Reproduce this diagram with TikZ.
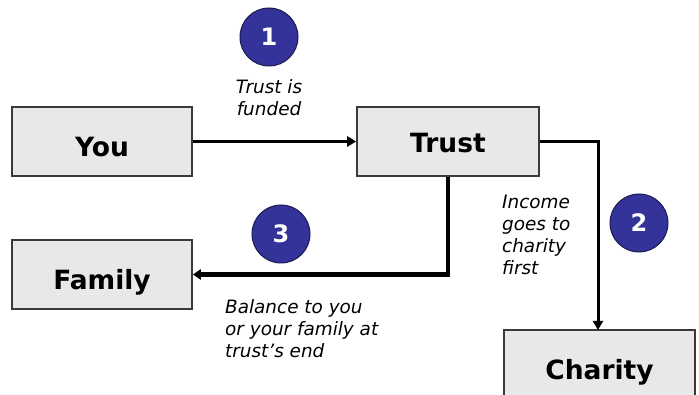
\documentclass[tikz,border=0pt]{standalone}
\usepackage{fontspec}
\setmainfont{DejaVu Sans}
\usetikzlibrary{arrows.meta}
\definecolor{boxfill}{HTML}{E8E8E8}
\definecolor{boxedge}{HTML}{3A3A3A}
\definecolor{stepblue}{HTML}{333399}
\definecolor{stepedge}{HTML}{1A1A4D}
\tikzset{
  partybox/.style={draw=boxedge, line width=1.6pt, fill=boxfill, minimum width=180pt, minimum height=69pt, inner sep=0pt, font=\fontsize{26.5}{30}\selectfont\bfseries, text depth=0pt},
  stepdot/.style={circle, draw=stepedge, line width=1pt, fill=stepblue, minimum size=58pt, inner sep=0pt, text=white, font=\fontsize{24}{28}\selectfont\bfseries},
  note/.style={font=\fontsize{18.4}{22}\selectfont\itshape, inner sep=0pt},
  flow/.style={line width=3pt, -{Triangle[length=9pt,width=10pt]}},
  bigflow/.style={line width=4.5pt, -{Triangle[length=8pt,width=10pt]}}
}
\begin{document}
\begin{tikzpicture}[x=1pt,y=-1pt]
\useasboundingbox (0,0) rectangle (699,395);
\clip (0,0) rectangle (699,395);
\node[partybox, text height=30pt] (you) at (102,141.5) {You};
\node[partybox, minimum width=182pt, text height=22pt] (trust) at (448,141.5) {Trust};
\node[partybox, text height=30pt] (family) at (102,274.5) {Family};
\node[partybox, minimum width=191pt, minimum height=70pt, text height=28pt] (charity) at (599.5,365) {Charity};
\coordinate (turn) at (598,330);
\draw[flow] (you.east) -- (trust.west);
\draw[flow] (trust.east) -| (turn);
\draw[bigflow] (trust.south) |- (family.east);
\node[stepdot] (s1) at (269,37) {1};
\node[stepdot] (s2) at (639,223) {2};
\node[stepdot] (s3) at (281,234) {3};
\node[note, align=center] (n1) at (269,98) {Trust is\\funded};
\node[note, align=left, anchor=west] (n2) at (502,235) {Income\\goes to\\charity\\first};
\node[note, align=left, anchor=west] (n3) at (225,329) {Balance to you\\or your family at\\trust’s end};
\end{tikzpicture}
\end{document}
